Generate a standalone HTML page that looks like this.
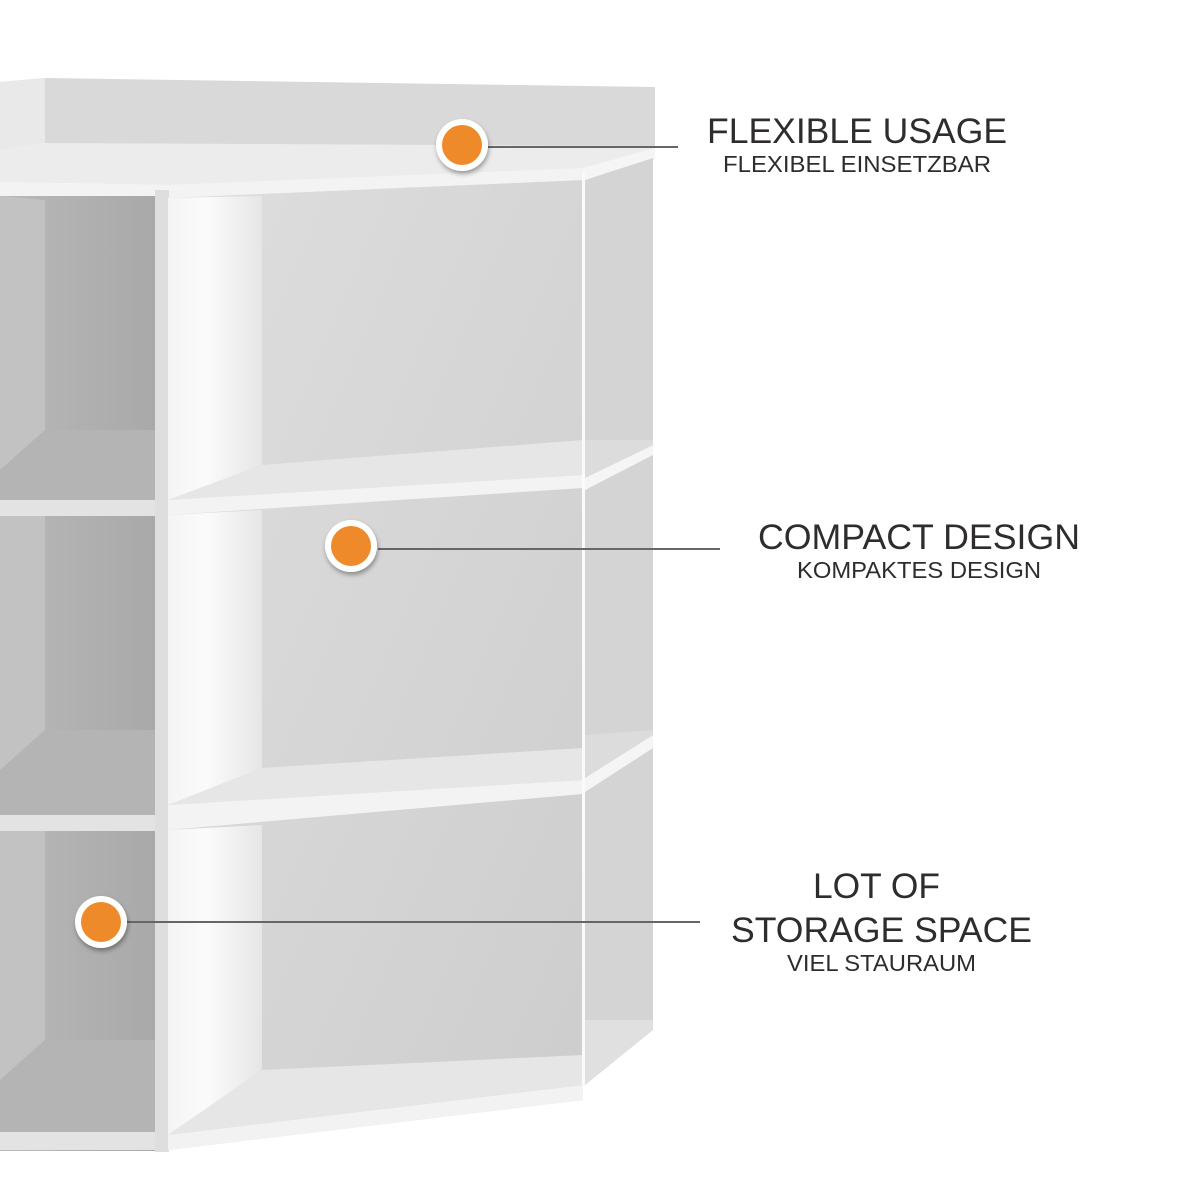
<!DOCTYPE html>
<html><head><meta charset="utf-8"><style>
html,body{margin:0;padding:0;background:#fff;}
svg{display:block}
text{font-family:"Liberation Sans",Arial,sans-serif;fill:#2f2c2c}
</style></head><body>
<svg width="1200" height="1200" viewBox="0 0 1200 1200" xmlns="http://www.w3.org/2000/svg">
<defs>
<linearGradient id="sideW" x1="0" x2="1" y1="0" y2="0"><stop offset="0" stop-color="#f4f4f4"/><stop offset="0.4" stop-color="#fbfbfb"/><stop offset="1" stop-color="#e6e6e6"/></linearGradient>
<linearGradient id="backC" x1="0" x2="1" y1="0" y2="1"><stop offset="0" stop-color="#dedede"/><stop offset="1" stop-color="#cdcdcd"/></linearGradient>
<linearGradient id="leftD" x1="0" x2="1"><stop offset="0" stop-color="#b8b8b8"/><stop offset="1" stop-color="#a9a9a9"/></linearGradient>
<filter id="sh" x="-50%" y="-50%" width="200%" height="200%"><feDropShadow dx="1" dy="3" stdDeviation="2.5" flood-color="#000" flood-opacity="0.35"/></filter>
</defs>
<!-- back top panel -->
<polygon points="0,82 45,78 655,87 655,148 0,148" fill="#d9d9d9"/>
<polygon points="0,82 45,78 45,145 0,150" fill="#e9e9e9"/>
<!-- top surface -->
<polygon points="0,150 40,143 655,146 655,150 583,170 168,185 0,182" fill="#ececec"/>
<!-- front top edge -->
<polygon points="0,182 168,185 583,168 583,180 168,198 0,196" fill="#f3f3f3"/>
<polygon points="583,168 655,148 655,160 583,180" fill="#f5f5f5"/>
<!-- left column -->
<rect x="0" y="196" width="155" height="955" fill="url(#leftD)"/>
<polygon points="0,196 45,200 45,430 0,470" fill="#c2c2c2"/>
<polygon points="0,515 45,515 45,730 0,770" fill="#c2c2c2"/>
<polygon points="0,830 45,830 45,1040 0,1080" fill="#c2c2c2"/>
<polygon points="0,470 45,430 155,430 155,500 0,500" fill="#b4b4b4"/>
<polygon points="0,770 45,730 155,730 155,815 0,815" fill="#b4b4b4"/>
<polygon points="0,1080 45,1040 155,1040 155,1132 0,1132" fill="#b4b4b4"/>
<rect x="0" y="500" width="168" height="16" fill="#e3e3e3"/>
<rect x="0" y="815" width="168" height="16" fill="#e3e3e3"/>
<rect x="0" y="1132" width="168" height="18" fill="#e3e3e3"/>
<rect x="155" y="190" width="14" height="962" fill="#dedede"/>
<!-- center column -->
<polygon points="168,198 583,180 583,1100 168,1150" fill="url(#backC)"/>
<!-- side walls white -->
<polygon points="168,198 262,196 262,465 168,500" fill="url(#sideW)"/>
<polygon points="168,515 262,510 262,768 168,805" fill="url(#sideW)"/>
<polygon points="168,830 262,825 262,1070 168,1135" fill="url(#sideW)"/>
<!-- shelf tops -->
<polygon points="168,500 262,465 583,440 583,475" fill="#e6e6e6"/>
<polygon points="168,805 262,768 583,748 583,780" fill="#e6e6e6"/>
<polygon points="168,1135 262,1070 583,1055 583,1085" fill="#e6e6e6"/>
<!-- shelf front edges -->
<polygon points="168,500 583,475 583,488 168,515" fill="#f3f3f3"/>
<polygon points="168,805 583,780 583,794 168,830" fill="#f3f3f3"/>
<polygon points="168,1135 583,1085 583,1100 168,1150" fill="#f2f2f2"/>
<!-- right column -->
<polygon points="585,180 653,158 653,1030 585,1085" fill="#d4d4d4"/>
<polygon points="585,478 653,445 653,455 585,490" fill="#f5f5f5"/>
<polygon points="585,440 653,440 653,445 585,478" fill="#dcdcdc"/>
<polygon points="585,778 653,735 653,748 585,792" fill="#f5f5f5"/>
<polygon points="585,735 653,730 653,735 585,778" fill="#dcdcdc"/>
<polygon points="585,1020 653,1020 653,1030 585,1085" fill="#e0e0e0"/>
<rect x="582" y="172" width="3" height="915" fill="#fafafa"/>
<!-- connectors -->
<line x1="488" y1="147" x2="678" y2="147" stroke="#666" stroke-width="2"/>
<line x1="378" y1="549" x2="720" y2="549" stroke="#666" stroke-width="2"/>
<line x1="127" y1="922" x2="700" y2="922" stroke="#666" stroke-width="2"/>
<!-- dots -->
<g filter="url(#sh)">
<circle cx="462" cy="145" r="26" fill="#fff"/>
<circle cx="351" cy="546" r="26" fill="#fff"/>
<circle cx="101" cy="922" r="26" fill="#fff"/>
</g>
<circle cx="462" cy="145" r="20" fill="#ee8a2a"/>
<circle cx="351" cy="546" r="20" fill="#ee8a2a"/>
<circle cx="101" cy="922" r="20" fill="#ee8a2a"/>
<!-- labels -->
<text x="707" y="143" font-size="35" textLength="300" lengthAdjust="spacingAndGlyphs">FLEXIBLE USAGE</text>
<text x="723" y="172" font-size="23" textLength="268" lengthAdjust="spacingAndGlyphs">FLEXIBEL EINSETZBAR</text>
<text x="758" y="549" font-size="35" textLength="322" lengthAdjust="spacingAndGlyphs">COMPACT DESIGN</text>
<text x="797" y="578" font-size="23" textLength="244" lengthAdjust="spacingAndGlyphs">KOMPAKTES DESIGN</text>
<text x="813" y="898" font-size="35" textLength="127" lengthAdjust="spacingAndGlyphs">LOT OF</text>
<text x="731" y="942" font-size="35" textLength="301" lengthAdjust="spacingAndGlyphs">STORAGE SPACE</text>
<text x="787" y="971" font-size="23" textLength="189" lengthAdjust="spacingAndGlyphs">VIEL STAURAUM</text>
</svg>
</body></html>
